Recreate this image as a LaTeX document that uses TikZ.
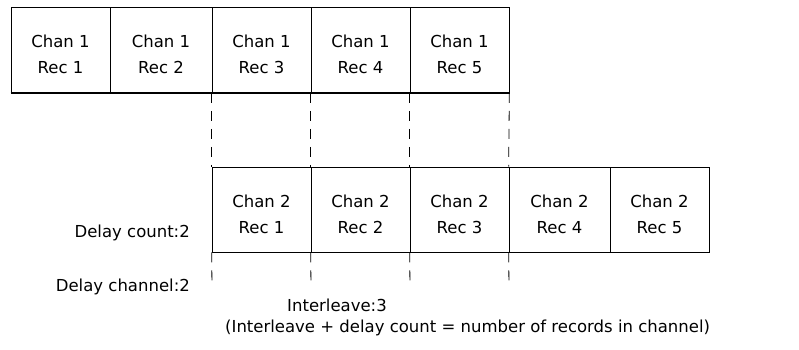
\documentclass[tikz,border=0pt]{standalone}
\usepackage{fontspec}
\setmainfont{DejaVu Sans}
\newcommand{\lowr}{\rule{0pt}{22pt}}
\begin{document}
\begin{tikzpicture}[x=1pt,y=-1pt,
  rec/.style={draw,line width=0.7pt,minimum height=85pt,inner sep=0pt,
    align=center,font=\fontsize{16.5}{26}\selectfont},
  base/.style={line width=1.5pt},
  sep/.style={line width=0.8pt,dash pattern=on 10pt off 8pt},
  lbl/.style={font=\fontsize{16.5}{18}\selectfont,inner sep=0pt}]
\useasboundingbox (0,0) rectangle (799,350);
% top row (channel 1)
\node[rec,minimum width=99pt]  (t1) at (60.5,50)  {\lowr Chan 1\\ Rec 1};
\node[rec,minimum width=102pt] (t2) at (161,50)   {\lowr Chan 1\\ Rec 2};
\node[rec,minimum width=99pt]  (t3) at (261.5,50) {\lowr Chan 1\\ Rec 3};
\node[rec,minimum width=99pt]  (t4) at (360.5,50) {\lowr Chan 1\\ Rec 4};
\node[rec,minimum width=99pt]  (t5) at (459.5,50) {\lowr Chan 1\\ Rec 5};
% bottom row (channel 2)
\node[rec,minimum width=99pt]  (b1) at (261.5,209.5) {\lowr Chan 2\\ Rec 1};
\node[rec,minimum width=99pt]  (b2) at (360.5,209.5) {\lowr Chan 2\\ Rec 2};
\node[rec,minimum width=99pt]  (b3) at (459.5,209.5) {\lowr Chan 2\\ Rec 3};
\node[rec,minimum width=101pt] (b4) at (559.5,209.5) {\lowr Chan 2\\ Rec 4};
\node[rec,minimum width=99pt]  (b5) at (659.5,209.5) {\lowr Chan 2\\ Rec 5};
% heavier base lines
\draw[base] (t1.south west) -- (t5.south east);
\draw[base] (b1.south west) -- (b5.south east);
% alignment markers between the rows
\draw[sep] (t3.south west) -- (b1.north west);
\draw[sep] (t4.south west) -- (b2.north west);
\draw[sep] (t5.south west) -- (b3.north west);
\draw[sep] (t5.south east) -- (b4.north west);
% markers below channel 2
\coordinate (e1) at (212,288);
\coordinate (e2) at (311,288);
\coordinate (e3) at (410,288);
\coordinate (e4) at (509,288);
\draw[sep] (b1.south west) -- (e1);
\draw[sep] (b2.south west) -- (e2);
\draw[sep] (b3.south west) -- (e3);
\draw[sep] (b4.south west) -- (e4);
% labels
\node[lbl,anchor=east] (dc) at (190,233) {Delay count:2};
\node[lbl,anchor=east] (dch) at (190,287) {Delay channel:2};
\node[lbl,anchor=west] (il) at (287,305) {Interleave:3};
\node[lbl,anchor=west] (note) at (225,328) {(Interleave + delay count = number of records in channel)};
\end{tikzpicture}
\end{document}
